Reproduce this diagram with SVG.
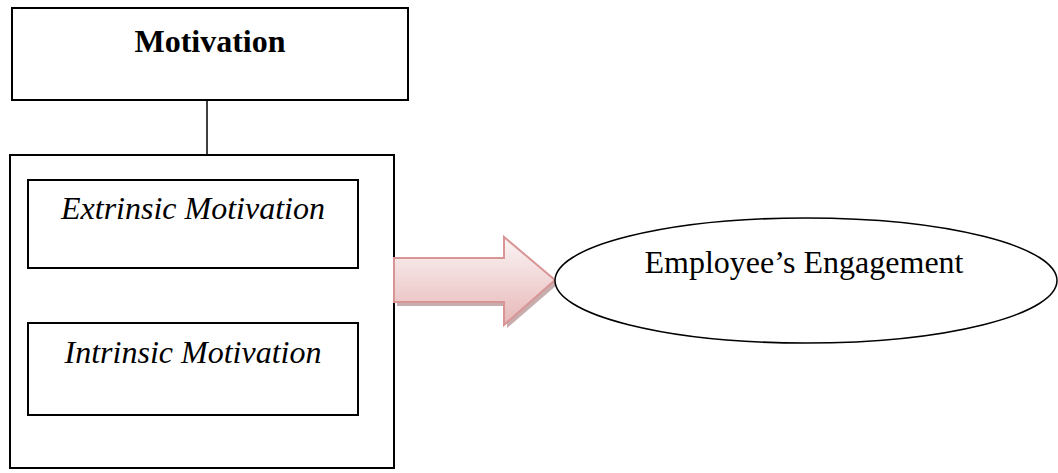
<svg xmlns="http://www.w3.org/2000/svg" width="1058" height="473" viewBox="0 0 1058 473">
<style>
.box{fill:#fff;stroke:#000;stroke-width:2}
.t{font-family:"Liberation Serif","Times New Roman",serif;font-size:32px;fill:#000;text-anchor:middle}
</style>
<defs>
<linearGradient id="ag" x1="0" y1="0" x2="0" y2="1">
<stop offset="0" stop-color="#fbf5f5"/>
<stop offset="1" stop-color="#e7b7b8"/>
</linearGradient>
</defs>
<rect width="1058" height="473" fill="#fff"/>
<g id="connectors">
<line x1="207" y1="100" x2="207" y2="155" stroke="#000" stroke-width="1.5"/>
</g>
<g id="motivation">
<rect class="box" x="12" y="8" width="396" height="92"/>
<text class="t" x="210" y="52" font-weight="bold">Motivation</text>
</g>
<g id="group">
<rect class="box" x="10" y="155" width="384" height="313"/>
</g>
<g id="extrinsic">
<rect class="box" x="28" y="180" width="330" height="88"/>
<text class="t" x="193" y="219" font-style="italic">Extrinsic Motivation</text>
</g>
<g id="intrinsic">
<rect class="box" x="28" y="323" width="330" height="92"/>
<text class="t" x="193" y="363" font-style="italic">Intrinsic Motivation</text>
</g>
<g id="arrow">
<polygon points="397,262 507,262 507,241 558,284 507,328 507,306 397,306" fill="#b08a8b" opacity="0.7"/>
<polygon points="394,258 504,258 504,237 555,280 504,325 504,302 394,302" fill="url(#ag)" stroke="#d99595" stroke-width="2"/>
</g>
<g id="engagement">
<ellipse cx="806" cy="280.5" rx="251" ry="62.5" fill="#fff" stroke="#000" stroke-width="1.5"/>
<text class="t" x="804" y="273">Employee’s Engagement</text>
</g>
</svg>
